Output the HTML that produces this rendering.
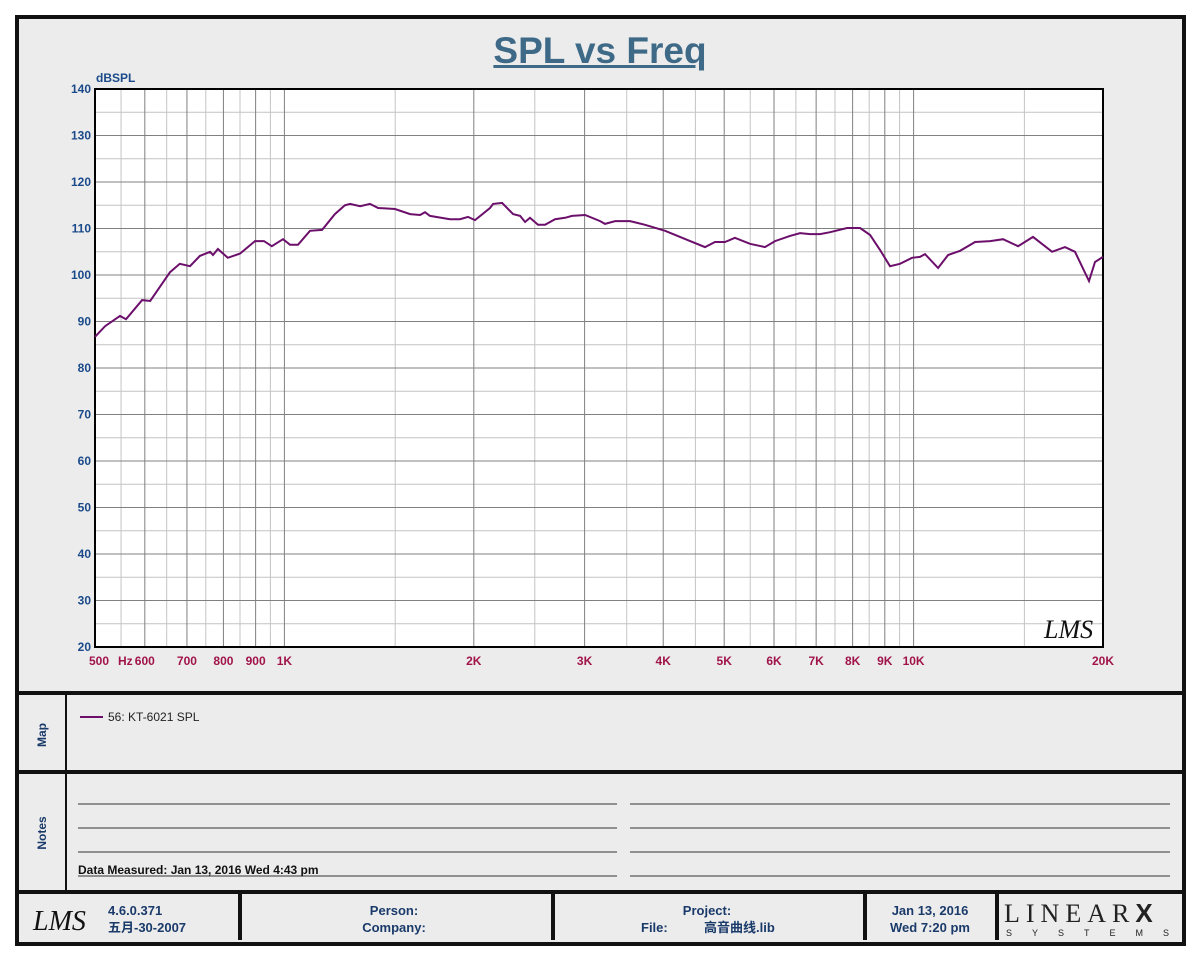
<!DOCTYPE html>
<html><head><meta charset="utf-8">
<style>
body{margin:0;width:1200px;height:960px;background:#fff;font-family:"Liberation Sans","Noto Sans CJK SC",sans-serif;overflow:hidden}
.abs{position:absolute}
</style></head>
<body>
<div class="abs" style="left:15px;top:15px;width:1163px;height:923px;border:4px solid #111;background:#ececec"></div>
<div class="abs" style="left:0;top:30px;width:1200px;text-align:center;font-size:37px;font-weight:bold;color:#3e6a88;text-decoration:underline">SPL vs Freq</div>
<svg class="abs" style="left:0;top:0" width="1200" height="960">
<g id="grid"></g>
<rect x="95" y="89" width="1008" height="558" fill="none" stroke="#000" stroke-width="2"/>
<text x="96" y="82" font-size="12" font-weight="bold" fill="#1a4a8a" font-family="Liberation Sans">dBSPL</text>
<text x="118" y="665" font-size="12" font-weight="bold" fill="#a0144a" font-family="Liberation Sans">Hz</text>
<g id="ticks"></g>
<path id="curve" fill="none" stroke="#6b0f6b" stroke-width="2"/>
<text x="1044" y="638" font-size="26" font-style="italic" font-family="Liberation Serif" fill="#111">LMS</text>
<rect x="17" y="691" width="1165" height="4" fill="#111"/>
<rect x="17" y="770" width="1165" height="4" fill="#111"/>
<rect x="17" y="890" width="1165" height="4" fill="#111"/>
<rect x="65" y="693" width="2" height="199" fill="#111"/>
<line x1="80" y1="717" x2="103" y2="717" stroke="#6b0f6b" stroke-width="2"/>
<text x="108" y="721" font-size="12" font-family="Liberation Sans" fill="#222">56: KT-6021 SPL</text>
<text transform="translate(46,735) rotate(-90)" text-anchor="middle" font-size="12" font-weight="bold" fill="#1a3a6a" font-family="Liberation Sans">Map</text>
<text transform="translate(46,833) rotate(-90)" text-anchor="middle" font-size="12" font-weight="bold" fill="#1a3a6a" font-family="Liberation Sans">Notes</text>
<g stroke="#333" stroke-width="1">
<line x1="78" y1="804" x2="617" y2="804"/><line x1="78" y1="828" x2="617" y2="828"/><line x1="78" y1="852" x2="617" y2="852"/><line x1="78" y1="876" x2="617" y2="876"/>
<line x1="630" y1="804" x2="1170" y2="804"/><line x1="630" y1="828" x2="1170" y2="828"/><line x1="630" y1="852" x2="1170" y2="852"/><line x1="630" y1="876" x2="1170" y2="876"/>
</g>
<text x="78" y="874" font-size="12" font-weight="bold" font-family="Liberation Sans" fill="#111">Data Measured: Jan 13, 2016  Wed  4:43 pm</text>
<rect x="238" y="893" width="4" height="47" fill="#111"/>
<rect x="551" y="893" width="4" height="47" fill="#111"/>
<rect x="863" y="893" width="4" height="47" fill="#111"/>
<rect x="995" y="893" width="4" height="47" fill="#111"/>
<text x="33" y="930" font-size="28" font-style="italic" font-family="Liberation Serif" fill="#111">LMS</text>
<g font-size="13" fill="#1a3a6a" font-family="Liberation Sans,Noto Sans CJK SC,sans-serif" font-weight="bold">
<text x="108" y="915">4.6.0.371</text>
<text x="108" y="932">五月-30-2007</text>
<text x="394" y="915" text-anchor="middle">Person:</text>
<text x="394" y="932" text-anchor="middle">Company:</text>
<text x="707" y="915" text-anchor="middle">Project:</text>
<text x="641" y="932">File:</text>
<text x="704" y="932">高音曲线.lib</text>
<text x="930" y="915" text-anchor="middle">Jan 13, 2016</text>
<text x="930" y="932" text-anchor="middle">Wed  7:20 pm</text>
</g>
<text x="1004" y="922" font-size="26" font-family="Liberation Serif" fill="#222" letter-spacing="6">LINEAR<tspan font-weight="bold" font-family="Liberation Sans">X</tspan></text>
<text x="1006" y="936" font-size="9" font-family="Liberation Sans" fill="#222" letter-spacing="20">SYSTEMS</text>
</svg>
<script>
const freqs=[500,519,548,560,594,612,658,682,708,734,762,770,784,813,850,898,928,955,995,1021,1051,1098,1148,1203,1248,1272,1319,1368,1409,1499,1584,1643,1673,1704,1833,1901,1958,2009,2122,2146,2218,2309,2369,2413,2457,2530,2596,2692,2793,2865,3005,3175,3233,3354,3544,3742,4027,4413,4661,4835,5015,5200,5495,5806,6022,6362,6600,6846,7102,7367,7837,8222,8527,8844,9174,9516,9943,10238,10427,10939,11346,11855,12525,13232,13875,14657,15483,16599,17406,18055,19003,19424,20000];
const spl=[86.7,89.0,91.2,90.5,94.6,94.4,100.6,102.4,101.9,104.1,105.0,104.3,105.6,103.7,104.6,107.3,107.3,106.2,107.7,106.5,106.5,109.5,109.7,113.1,115.0,115.3,114.8,115.3,114.4,114.2,113.1,112.9,113.5,112.7,112.0,112.0,112.5,111.8,114.4,115.3,115.5,113.1,112.7,111.4,112.3,110.8,110.8,112.0,112.3,112.7,112.9,111.6,111.0,111.6,111.6,110.8,109.5,107.3,106.0,107.1,107.1,108.0,106.7,106.0,107.3,108.4,109.0,108.8,108.8,109.2,110.1,110.1,108.6,105.4,101.9,102.4,103.7,103.9,104.5,101.5,104.3,105.2,107.1,107.3,107.7,106.2,108.2,105.0,106.0,105.0,98.7,102.8,103.9];
const yTicks=[20,30,40,50,60,70,80,90,100,110,120,130,140];
const xTickVals=[500,600,700,800,900,1000,2000,3000,4000,5000,6000,7000,8000,9000,10000,20000];
const xTickLabels=["500","600","700","800","900","1K","2K","3K","4K","5K","6K","7K","8K","9K","10K","20K"];
const minorX=[550,650,750,850,950,1500,2500,3500,4500,5500,6500,7500,8500,9500,15000];
const X0=95,X1=1103,Y0=647,Y1=89;
const xs=f=>X0+(X1-X0)*Math.log(f/500)/Math.log(40);
const ys=v=>Y0-(Y0-Y1)*(v-20)/120;
const NS="http://www.w3.org/2000/svg";
const grid=document.getElementById('grid'),ticks=document.getElementById('ticks');
function ln(x1,y1,x2,y2,c){const l=document.createElementNS(NS,'line');l.setAttribute('x1',x1);l.setAttribute('y1',y1);l.setAttribute('x2',x2);l.setAttribute('y2',y2);l.setAttribute('stroke',c);l.setAttribute('stroke-width',1);grid.appendChild(l);return l;}
const bg=document.createElementNS(NS,'rect');bg.setAttribute('x',X0);bg.setAttribute('y',Y1);bg.setAttribute('width',X1-X0);bg.setAttribute('height',Y0-Y1);bg.setAttribute('fill','#fff');grid.appendChild(bg);
minorX.forEach(f=>{const l=ln(xs(f),Y1,xs(f),Y0,'#c4c4c4');

});
for(let v=25;v<140;v+=10){const l=ln(X0,ys(v),X1,ys(v),'#c4c4c4');

}
yTicks.forEach(v=>{const l=ln(X0,ys(v),X1,ys(v),'#808080');


const t=document.createElementNS(NS,'text');t.setAttribute('x',X0-4);t.setAttribute('y',ys(v)+4);t.setAttribute('text-anchor','end');t.setAttribute('font-size','12');t.setAttribute('font-weight','bold');t.setAttribute('fill','#1a4a8a');t.setAttribute('font-family','Liberation Sans');t.textContent=v;


ticks.appendChild(t);});
xTickVals.forEach((f,i)=>{const l=ln(xs(f),Y1,xs(f),Y0,'#808080');


const t=document.createElementNS(NS,'text');t.setAttribute('x',xs(f)+(i==0?4:0));t.setAttribute('y',665);t.setAttribute('text-anchor','middle');t.setAttribute('font-size','12');t.setAttribute('font-weight','bold');t.setAttribute('fill','#a0144a');t.setAttribute('font-family','Liberation Sans');t.textContent=xTickLabels[i];


ticks.appendChild(t);});
document.getElementById('curve').setAttribute('d',freqs.map((f,i)=>(i?'L':'M')+xs(f).toFixed(1)+','+ys(spl[i]).toFixed(1)).join(''));
</script>
</body></html>
